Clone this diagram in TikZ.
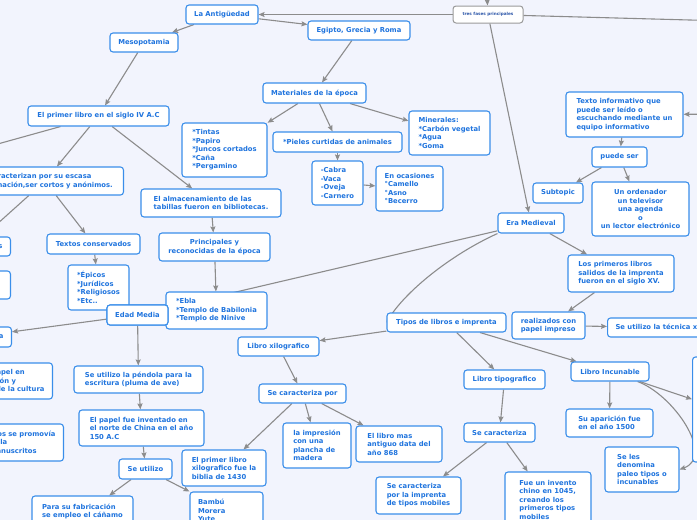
\documentclass[tikz,border=0pt]{standalone}
\usepackage{fontspec}
\setmainfont{DejaVu Sans}
\usepackage{xcolor}
\usetikzlibrary{arrows.meta, positioning, backgrounds}

\definecolor{mapblue}{HTML}{1F74DE}
\definecolor{mapline}{HTML}{3A8EEA}
\definecolor{linkgray}{HTML}{8C8C8C}
\definecolor{hubline}{HTML}{9A9A9A}
\definecolor{hubtext}{HTML}{2B55A8}
\definecolor{paper}{HTML}{F2F4FD}

\pgfdeclarelayer{links}
\pgfsetlayers{background,links,main}

\begin{document}
\begin{tikzpicture}[
  x=1pt, y=-1pt,
  font=\fontsize{6.8}{8.5}\selectfont\bfseries,
  % Box styles
  topic/.style={draw=mapline, line width=1.1pt, rounded corners=3pt, fill=white,
                text=mapblue, inner xsep=8pt, inner ysep=5pt, align=left},
  topicc/.style={topic, align=center},
  hub/.style={draw=hubline, line width=1pt, rounded corners=3pt, fill=white,
              text=hubtext, font=\fontsize{4.2}{5}\selectfont\bfseries},
  box/.style 2 args={minimum width=#1, minimum height=#2},
  arrow/.style={draw=linkgray, line width=1.1pt, -{Stealth[length=6pt,width=5pt,inset=1pt]}},
]

\useasboundingbox (0,0) rectangle (697,520);
\begin{pgfonlayer}{background}
  \fill[paper] (0,0) rectangle (697,520);
\end{pgfonlayer}

% ---- CENTRE ----
\node[hub, box={70}{17}] (fases) at (488,14.5) {tres fases principales};
\coordinate (topin)   at (486,-25);
\coordinate (rightout) at (800,23);
\coordinate (rightin) at (760,114);

% ---- ANTIGUEDAD ----
\node[topic, box={72}{19}]  (antig)  at (222,14.5) {La Antigüedad};
\node[topic, box={68}{19}]  (meso)   at (144,42.5) {Mesopotamia};
\node[topic, box={102}{19}] (egipto) at (359,30.5) {Egipto, Grecia y Roma};
\node[topic, box={103}{20}] (mater)  at (314.5,93) {Materiales de la época};
\node[topic, box={141}{20}] (primer) at (98.5,116) {El primer libro en el siglo IV A.C};
\coordinate (offprimer) at (-60,160);

\node[topic, box={85}{54}]  (tintas) at (224.5,150) {*Tintas\\*Papiro\\*Juncos cortados\\*Caña\\*Pergamino};
\node[topic, box={129}{20}] (pieles) at (337.5,142) {*Pieles curtidas de animales};
\node[topic, box={81}{44}]  (miner)  at (449.5,133) {Minerales:\\*Carbón vegetal\\*Agua\\*Goma};
\node[topic, box={51}{44}]  (cabra)  at (337.5,183) {-Cabra\\-Vaca\\-Oveja\\-Carnero};
\node[topic, box={67}{45}]  (ocasion) at (409.5,188.5) {En ocasiones\\°Camello\\°Asno\\°Becerro};

\node[topic, box={140}{28}] (almac) at (211,203) {El almacenamiento de las\\tabillas fueron en bibliotecas.};
\node[topicc, box={111}{28}] (princ) at (214.5,247) {Principales y\\reconocidas de la época};
\node[topic, box={101}{37}] (ebla)  at (216.5,310.5) {*Ebla\\*Templo de Babilonia\\*Templo de Ninive};

\node[topic, box={157}{28}, anchor=east] (caract) at (124,181) {Se caracterizan por su escasa\\información,ser cortos y anónimos.};
\node[topic, box={93}{20}] (textos) at (93.5,244) {Textos conservados};
\node[topic, box={61}{45}] (epicos) at (98.5,287.5) {*Épicos\\*Jurídicos\\*Religiosos\\*Etc..};
\node[topic, box={60}{19}, anchor=east] (left1) at (11,246.5) {Textos perdidos};
\node[topic, box={60}{28}, anchor=east] (left2) at (11,285) {};

% ---- EDAD MEDIA ----
\node[topic, box={60}{20}, anchor=east] (left3) at (12,337) {Escritura gótica};
\node[topic, box={60}{36}, anchor=east] (left4) at (53,381) {Se usó el papel en\\la transmisión y\\expansión de la cultura};
\node[topic, box={60}{37}, anchor=east] (left5) at (64,442.5) {En conventos se promovía\\la lectura y la\\copia de manuscritos};
\node[topic, box={61}{20}]  (edad)    at (137.5,315) {Edad Media};
\node[topic, box={129}{27}] (pendola) at (138.5,379.5) {Se utilizo la péndola para la\\escritura (pluma de ave)};
\node[topic, box={125}{36}] (papel)   at (141.5,428) {El papel fue inventado en\\el norte de China en el año\\150 A.C};
\node[topic, box={53}{20}]  (seutil)  at (145.5,469) {Se utilizo};
\node[topic, box={101}{38}] (fabric)  at (82.5,515) {Para su fabricación\\se empleo el cáñamo\\\phantom{x}};
\node[topic, text width=57, minimum height=37] (bambu) at (226.5,510.5) {Bambú\\Morera\\Yute};

% ---- ERA MEDIEVAL ----
\node[topic, box={66}{20}]   (era)     at (531,223) {Era Medieval};
\node[topic, box={119}{19}]  (tipos)   at (446.5,322.5) {Tipos de libros e imprenta};
\node[topic, box={81}{19}]   (xilo)    at (278.5,346.5) {Libro xilografico};
\node[topic, box={87}{19}]   (secarpor) at (302.5,393.5) {Se caracteriza por};
\node[topic, box={68}{45}]   (plancha) at (317,445.5) {la impresión\\con una\\plancha de\\madera};
\node[topic, box={86}{36}]   (antiguo) at (399,444) {El libro mas\\antiguo data del\\año 868};
\node[topic, box={84}{36}]   (biblia)  at (224,468) {El primer libro\\xilografico fue la\\biblia de 1430};
\node[topic, box={81}{19}]   (tipog)   at (504.5,379.5) {Libro tipografico};
\node[topic, box={71}{19}]   (secar)   at (499.5,432.5) {Se caracteriza};
\node[topic, box={85}{37}]   (mobiles) at (418.5,495.5) {Se caracteriza\\por la imprenta\\de tipos mobiles};
\node[topic, box={86}{55}]   (invento) at (548,499.5) {Fue un invento\\chino en 1045,\\creando los\\primeros tipos\\mobiles};
\node[topic, box={78}{19}]   (incun)   at (610,371.5) {Libro Incunable};
\node[topic, box={87}{28}]   (aparic)  at (609.5,423) {Su aparición fue\\en el año 1500};
\node[topic, box={74}{45}]   (paleo)   at (642,469.5) {Se les\\denomina\\paleo tipos o\\incunables};
\node[topic, box={60}{105}, anchor=west] (rightbox) at (692,409.5) {};
\node[topic, box={106}{37}]  (primeros) at (621,273.5) {Los primeros libros\\salidos de la imprenta\\fueron en el siglo XV.};
\node[topic, box={73}{27}]   (realiz)  at (548.5,325.5) {realizados con\\papel impreso};
\node[topic, box={60}{19}, anchor=west] (tecnica) at (607,327.5) {Se utilizo la técnica xilográfica};

% ---- TEXTO INFORMATIVO ----
\node[topic, box={117}{45}]  (texto)    at (624.5,114.5) {Texto informativo que\\puede ser leído o\\escuchando mediante un\\equipo informativo};
\node[topic, box={55}{20}]   (puede)    at (619.5,157) {puede ser};
\node[topic, box={50}{20}]   (subtopic) at (558,193) {Subtopic};
\node[topicc, box={97}{54}]  (ordenador) at (640.5,209) {Un ordenador\\un televisor\\una agenda\\o\\un lector electrónico};

% ---- CONNECTORS ----
\begin{pgfonlayer}{links}
\draw[arrow] (topin) -- (fases);
\draw[arrow] (fases) -- (rightout);
\draw[arrow] (rightin) -- (texto);
\draw[arrow] (fases) -- (antig);
\draw[arrow] (fases) -- (era);

\draw[arrow] (antig) -- (meso);
\draw[arrow] (antig) -- (egipto);
\draw[arrow] (egipto) -- (mater);
\draw[arrow] (meso) -- (primer);
\foreach \dst in {tintas, pieles, miner}
  \draw[arrow] (mater) -- (\dst);
\draw[arrow] (pieles) -- (cabra);
\draw[arrow] (cabra) -- (ocasion);
\draw[arrow] (primer) -- (offprimer);
\draw[arrow] (primer) -- (caract);
\draw[arrow] (primer) -- (almac);
\draw[arrow] (almac) -- (princ);
\draw[arrow] (princ) -- (ebla);
\draw[arrow] (caract) -- (left1);
\draw[arrow] (caract) -- (textos);
\draw[arrow] (textos) -- (epicos);

\draw[arrow] (era) -- (edad);
\draw[arrow] (edad) -- (left3);
\draw[arrow] (edad) -- (pendola);
\draw[arrow] (pendola) -- (papel);
\draw[arrow] (papel) -- (seutil);
\draw[arrow] (seutil) -- (fabric);
\draw[arrow] (seutil) -- (bambu);

\draw[arrow] (era.south west) .. controls (450,255) and (405,292) .. (tipos.west);
\draw[arrow] (era) -- (primeros);
\draw[arrow] (primeros) -- (realiz);
\draw[arrow] (realiz) -- (tecnica);
\draw[arrow] (tipos) -- (xilo);
\draw[arrow] (tipos) -- (tipog);
\draw[arrow] (tipos) -- (incun);
\draw[arrow] (xilo) -- (secarpor);
\foreach \dst in {biblia, plancha, antiguo}
  \draw[arrow] (secarpor) -- (\dst);
\draw[arrow] (tipog) -- (secar);
\draw[arrow] (secar) -- (mobiles);
\draw[arrow] (secar) -- (invento);
\draw[arrow] (incun) -- (aparic);
\draw[arrow] (incun) -- (rightbox);
\draw[arrow] (incun) to[out=-20, in=20] (paleo.east);

\draw[arrow] (texto) -- (puede);
\draw[arrow] (puede) -- (subtopic);
\draw[arrow] (puede) -- (ordenador);
\end{pgfonlayer}

% Edad Media sits on top of its neighbours
\node[topic, box={61}{20}] at (edad) {Edad Media};

\end{tikzpicture}
\end{document}
